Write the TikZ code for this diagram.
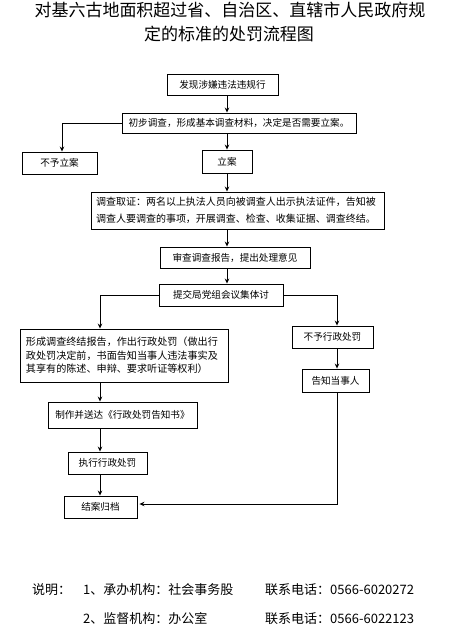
\documentclass[tikz,border=0pt]{standalone}
\usepackage{fontspec}
\setmainfont{Noto Sans CJK SC}
\usetikzlibrary{arrows.meta}
\begin{document}
\begin{tikzpicture}[x=1pt,y=-1pt,
  box/.style={draw=black,line width=0.9pt,fill=white,inner sep=0pt,anchor=center,
    font=\fontsize{9.6}{12}\selectfont},
  arr/.style={line width=0.9pt,-{Stealth[length=5pt,width=4.5pt]}},
  ttl/.style={inner sep=0pt,font=\fontsize{17}{20}\selectfont},
  foot/.style={inner sep=0pt,anchor=west,font=\fontsize{13}{15}\selectfont}]
\clip (0,0) rectangle (467,641);
\useasboundingbox (0,0) rectangle (467,641);
\fill[white] (0,0) rectangle (467,641);
% title
\node[ttl] (t1) at (230,10) {对基六古地面积超过省、自治区、直辖市人民政府规};
\node[ttl] (t2) at (229,34) {定的标准的处罚流程图};
% column coordinates
\coordinate (cm) at (227,0);
\coordinate (cl) at (100,0);
\coordinate (cr) at (337,0);
\coordinate (cn) at (62,0);
% boxes
\node[box,minimum width=111pt,minimum height=21pt] (b1) at (222.5,84.5) {发现涉嫌违法违规行};
\node[box,minimum width=234pt,minimum height=20pt] (b2) at (239,123) {初步调查，形成基本调查材料，决定是否需要立案。};
\node[box,minimum width=75pt,minimum height=22pt] (b3) at (59.5,163) {不予立案};
\node[box,minimum width=50pt,minimum height=23pt] (b4) at (227,161.5) {立案};
\node[box,minimum width=293pt,minimum height=37pt,text width=283pt,align=left,
  font=\fontsize{10}{17}\selectfont] (b5) at (237.5,210.5)
  {调查取证：两名以上执法人员向被调查人出示执法证件，告知被\\调查人要调查的事项，开展调查、检查、收集证据、调查终结。};
\node[box,minimum width=150pt,minimum height=21pt] (b6) at (235,257.5) {审查调查报告，提出处理意见};
\node[box,minimum width=124pt,minimum height=22pt] (b7) at (221,295) {提交局党组会议集体讨};
\node[box,minimum width=208pt,minimum height=53pt,text width=196pt,align=left,
  font=\fontsize{10.1}{13.5}\selectfont] (b8) at (124,355.5)
  {形成调查终结报告，作出行政处罚（做出行\\政处罚决定前，书面告知当事人违法事实及\\其享有的陈述、申辩、要求听证等权利）};
\node[box,minimum width=81pt,minimum height=22pt] (b9) at (332.5,337) {不予行政处罚};
\node[box,minimum width=67pt,minimum height=23pt] (b10) at (335.5,380.5) {告知当事人};
\node[box,minimum width=149pt,minimum height=26pt] (b11) at (122.5,415) {制作并送达《行政处罚告知书》};
\node[box,minimum width=79pt,minimum height=22pt] (b12) at (107.5,463) {执行行政处罚};
\node[box,minimum width=73pt,minimum height=22pt] (b13) at (100.5,507) {结案归档};
% connectors
\draw[arr] (b1.south -| cm) -- (b2.north -| cm);
\draw[arr] (b2.west) -| (b3.north -| cn);
\draw[arr] (b2.south -| cm) -- (b4.north -| cm);
\draw[arr] (b4.south -| cm) -- (b5.north -| cm);
\draw[arr] (b5.south -| cm) -- (b6.north -| cm);
\draw[arr] (b6.south -| cm) -- (b7.north -| cm);
\draw[arr] (b7.west) -| (b8.north -| cl);
\draw[arr] (b7.east) -| (b9.north -| cr);
\draw[arr] (b8.south -| cl) -- (b11.north -| cl);
\draw[arr] (b11.south -| cl) -- (b12.north -| cl);
\draw[arr] (b12.south -| cl) -- (b13.north -| cl);
\draw[arr] (b9.south -| cr) -- (b10.north -| cr);
\coordinate (bend) at (337,504);
\draw[arr,shorten >=2pt] (b10.south -| cr) -- (bend) -- (bend -| b13.east);
% footer
\node[foot] (f0) at (32,590) {说明：};
\node[foot] (f1) at (83,590) {1、承办机构：社会事务股};
\node[foot] (f2) at (265,590) {联系电话：0566-6020272};
\node[foot] (f3) at (83,619) {2、监督机构：办公室};
\node[foot] (f4) at (265,619) {联系电话：0566-6022123};
\end{tikzpicture}
\end{document}
